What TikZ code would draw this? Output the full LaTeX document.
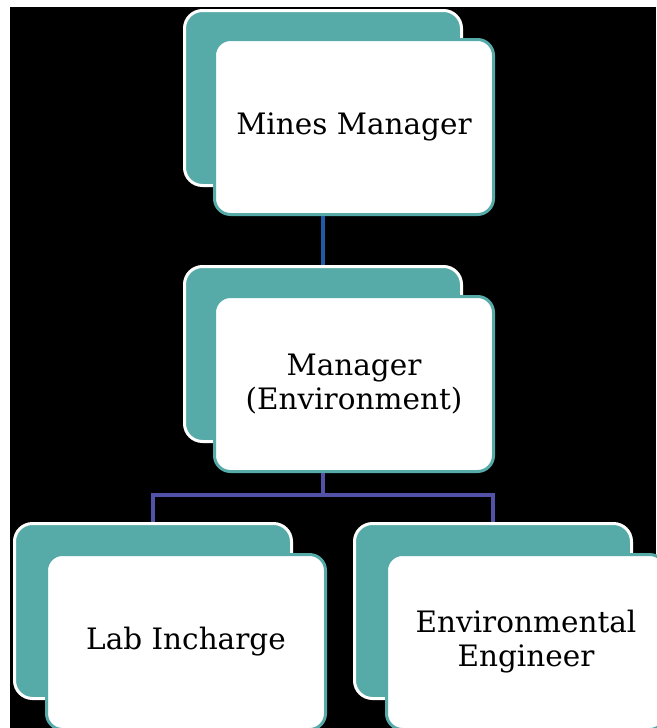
\documentclass[tikz,border=0pt]{standalone}
\usepackage{fontspec}
\setmainfont{DejaVu Serif}
\usepackage{tikz}
\usetikzlibrary{positioning, calc}
\definecolor{orgteal}{RGB}{86, 170, 168}
\definecolor{orgblue}{RGB}{30, 90, 165}
\definecolor{orgpurple}{RGB}{82, 82, 168}
\tikzset{
    backbox/.style={rectangle, draw=white, line width=3pt, fill=orgteal, rounded corners=18pt, minimum width=277pt, minimum height=175pt, inner sep=0pt},
    frontbox/.style={rectangle, draw=orgteal, line width=3pt, fill=white, rounded corners=16pt, minimum width=279pt, minimum height=175pt, align=center, font=\fontsize{29.5}{34}\selectfont},
    link/.style={draw, line width=4pt, orgpurple}
}
\begin{document}
\begin{tikzpicture}[x=1pt, y=-1pt]
    \useasboundingbox (0,0) rectangle (656,728);
    \fill[white] (0,0) rectangle (656,728);
    \fill[black] (10,7) rectangle (656,728);

    % top level
    \node[backbox] (minesbk) at (323,98) {};
    \node[frontbox] (mines) at ($(minesbk)+(31,29)$) {Mines Manager};
    % second level
    \node[backbox] (envmgrbk) at (323,354) {};
    \node[frontbox] (envmgr) at ($(envmgrbk)+(31,30)$) {Manager\\(Environment)};
    % third level
    \node[backbox] (labbk) at (153,611) {};
    \node[frontbox] (lab) at ($(labbk)+(33,31)$) {Lab Incharge};
    \node[backbox] (engbk) at (493,611) {};
    \node[frontbox] (eng) at ($(engbk)+(33,31)$) {Environmental\\Engineer};

    % connectors
    \draw[link, orgblue] (minesbk.south |- mines.south) -- (envmgrbk.north);
    \coordinate (split) at ($(envmgrbk.south |- envmgr.south)+(0,22)$);
    \draw[link] (envmgrbk.south |- envmgr.south) -- (split);
    \draw[link] (split) -| (labbk.north);
    \draw[link] (split) -| (engbk.north);
\end{tikzpicture}
\end{document}
